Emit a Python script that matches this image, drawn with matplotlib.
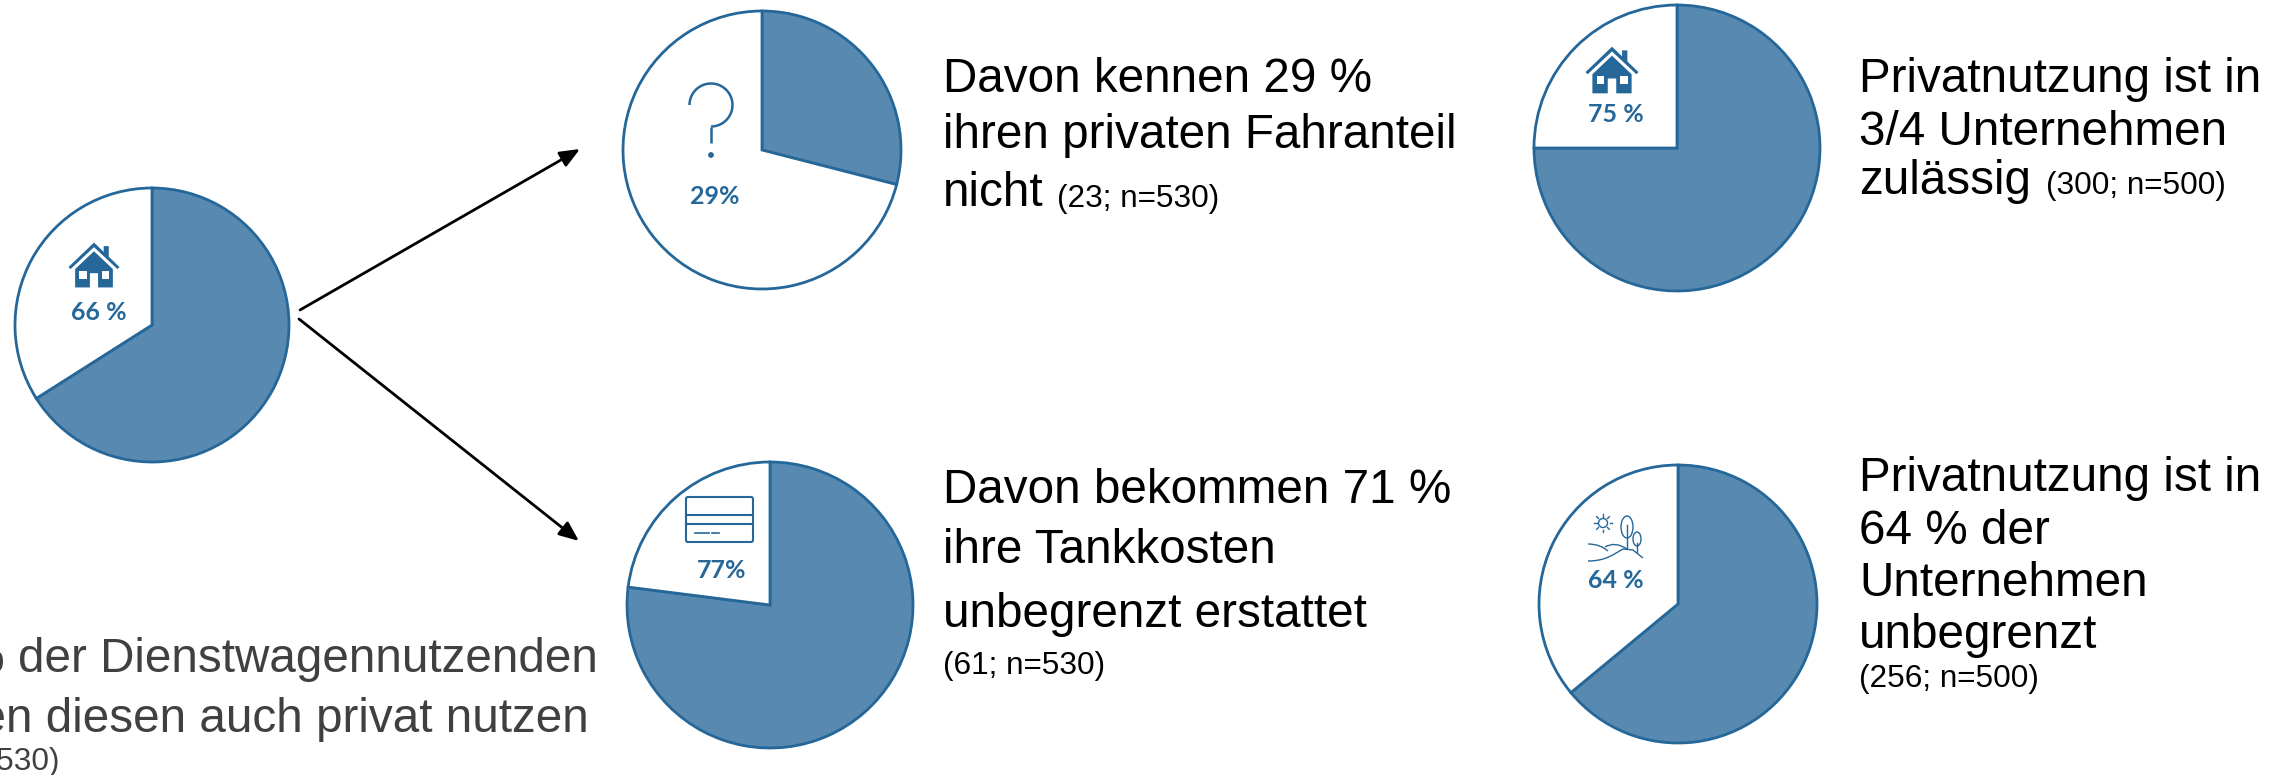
import matplotlib
matplotlib.use('Agg')
import matplotlib.pyplot as plt
from matplotlib.patches import Arc, Circle, FancyBboxPatch, Polygon, Rectangle, Ellipse, PathPatch
from matplotlib.path import Path

W, H = 2292, 775
FILL = '#5889b0'
EDGE = '#256799'
GREY = '#404040'

# pie data: share of the blue wedge, clockwise from 12 o'clock
pie_shares = [66, 29, 77, 75, 64]
pie_labels = ['66 %', '29%', '77%', '75 %', '64 %']

# layout in pixels of the 2292x775 picture
pie_centers = [(152, 325), (762, 150), (770, 605), (1677, 148), (1678, 604)]
pie_radii = [137, 139, 143, 143, 139]
label_pos = [(99, 313), (715, 197), (722, 570), (1616, 115), (1616, 581)]

big_texts = [
    (943, 92, 'Davon kennen 29 %'),
    (943, 148, 'ihren privaten Fahranteil'),
    (943, 206, 'nicht'),
    (943, 503, 'Davon bekommen 71 %'),
    (943, 563, 'ihre Tankkosten'),
    (943, 627, 'unbegrenzt erstattet'),
    (1859, 92, 'Privatnutzung ist in'),
    (1859, 145, '3/4 Unternehmen'),
    (1859, 194, 'zulässig'),
    (1859, 491, 'Privatnutzung ist in'),
    (1859, 544, '64 % der'),
    (1859, 596, 'Unternehmen'),
    (1859, 648, 'unbegrenzt'),
]
small_texts = [
    (1057, 207, '(23; n=530)'),
    (943, 674, '(61; n=530)'),
    (2046, 194, '(300; n=500)'),
    (1859, 687, '(256; n=500)'),
]
# this block runs off the left edge of the picture
left_texts = [
    (598, 672, '66 % der Dienstwagennutzenden', 34.3),
    (589, 732, 'geben diesen auch privat nutzen', 34.3),
    (59, 770, '(n=530)', 22.7),
]

fig = plt.figure(figsize=(W / 100, H / 100), dpi=100, facecolor='white')

# one small axes per pie
for share, (cx, cy), r in zip(pie_shares, pie_centers, pie_radii):
    pad = r * 1.05
    pie_ax = fig.add_axes([(cx - pad) / W, 1 - (cy + pad) / H, 2 * pad / W, 2 * pad / H])
    pie_ax.pie([share, 100 - share], colors=[FILL, 'white'], startangle=90, counterclock=False,
               wedgeprops={'edgecolor': EDGE, 'linewidth': 2.0})
    pie_ax.set_xlim(-1.05, 1.05)
    pie_ax.set_ylim(-1.05, 1.05)

# overlay in picture pixels for text, arrows and icons
ax = fig.add_axes([0, 0, 1, 1], facecolor='none')
ax.set_xlim(0, W)
ax.set_ylim(H, 0)
ax.axis('off')


def draw_house(x, y, s):
    # x, y = centre of icon, s = width in pixels
    u = s / 100

    def scaled(pts):
        return [(x + a * u, y + b * u) for a, b in pts]

    roof = [(-50, 4), (0, -44), (50, 4), (46, 8), (0, -35), (-46, 8)]
    chimney = [(19, -37), (29, -37), (29, -12), (19, -22)]
    body = [(-37, 8), (0, -27), (37, 8), (37, 44), (8, 44), (8, 16), (-8, 16), (-8, 44), (-37, 44)]
    for pts in (roof, chimney, body):
        ax.add_patch(Polygon(scaled(pts), fc=EDGE, ec='none'))
    for wx in (-29, 15):
        ax.add_patch(Rectangle((x + wx * u, y + 12 * u), 14.5 * u, 15 * u, fc='white', ec='none'))


def draw_question(x, y):
    # y axis points down here, so the arc runs left - top - right - bottom
    ax.add_patch(Arc((x, y), 43, 43, theta1=180, theta2=450, ec=EDGE, lw=1.8))
    ax.plot([x, x], [y + 21.5, y + 38], color=EDGE, lw=1.8, solid_capstyle='butt')
    ax.add_patch(Circle((x, y + 50), 2.9, fc=EDGE, ec='none'))


def draw_card(x0, y0, x1, y1):
    ax.add_patch(FancyBboxPatch((x0 + 2, y0 + 2), x1 - x0 - 4, y1 - y0 - 4, boxstyle='round,pad=2',
                                fc='white', ec=EDGE, lw=1.5))
    for yy in (y0 + 18, y0 + 27):
        ax.plot([x0, x1], [yy, yy], color=EDGE, lw=1.5)
    ax.plot([x0 + 9, x0 + 23], [y0 + 36, y0 + 36], color=EDGE, lw=1.2)
    ax.plot([x0 + 26, x0 + 33], [y0 + 36, y0 + 36], color=EDGE, lw=1.2)


def draw_landscape(x, y):
    # x, y = sun centre
    ax.add_patch(Circle((x, y), 4.5, fc='none', ec=EDGE, lw=1.0))
    for dx, dy in [(1, 0), (-1, 0), (0, 1), (0, -1), (.7, .7), (-.7, .7), (.7, -.7), (-.7, -.7)]:
        ax.plot([x + dx * 6.5, x + dx * 9], [y + dy * 6.5, y + dy * 9], color=EDGE, lw=1.0)
    ax.add_patch(Ellipse((x + 24, y + 4), 12, 22, fc='none', ec=EDGE, lw=1.0))
    ax.plot([x + 24, x + 24], [y + 2, y + 25], color=EDGE, lw=1.0)
    ax.add_patch(Ellipse((x + 34, y + 16), 8, 14, fc='none', ec=EDGE, lw=1.0))
    ax.plot([x + 34, x + 34], [y + 20, y + 29], color=EDGE, lw=1.0)
    for pts in ([(-15, 21), (-3, 21), (5, 28)], [(2, 24), (12, 18), (24, 26)],
                [(-15, 38), (3, 38), (11, 31), (20, 26), (30, 27), (40, 35)]):
        verts = [(x + a, y + b) for a, b in pts]
        codes = [Path.MOVETO] + [Path.CURVE3] * (len(pts) - 1) if len(pts) == 3 else \
            [Path.MOVETO] + [Path.CURVE4] * 3 + [Path.LINETO] * 2
        ax.add_patch(PathPatch(Path(verts, codes), fc='none', ec=EDGE, lw=1.0))


draw_house(94, 265, 51)
draw_question(711, 105)
draw_card(686, 497, 753, 542)
draw_house(1612, 70, 53)
draw_landscape(1603, 523)

for label, (x, y) in zip(pie_labels, label_pos):
    ax.text(x, y, label, color=EDGE, fontsize=18, family='Lato', fontweight='bold', ha='center', va='center')

for x, y, s in big_texts:
    ax.text(x, y, s, fontsize=34.3, family='Liberation Sans', color='black', va='baseline')
for x, y, s in small_texts:
    ax.text(x, y, s, fontsize=22.7, family='Liberation Sans', color='black', va='baseline')
for x, y, s, size in left_texts:
    ax.text(x, y, s, fontsize=size, family='Liberation Sans', color=GREY, ha='right', va='baseline')

for start, end in [((300, 310), (580, 149)), ((299, 319), (579, 541))]:
    ax.annotate('', xy=end, xytext=start,
                arrowprops=dict(arrowstyle='-|>,head_length=0.6,head_width=0.25', color='black', lw=2,
                                mutation_scale=20, shrinkA=0, shrinkB=0))

fig.savefig('out.png', dpi=100)
